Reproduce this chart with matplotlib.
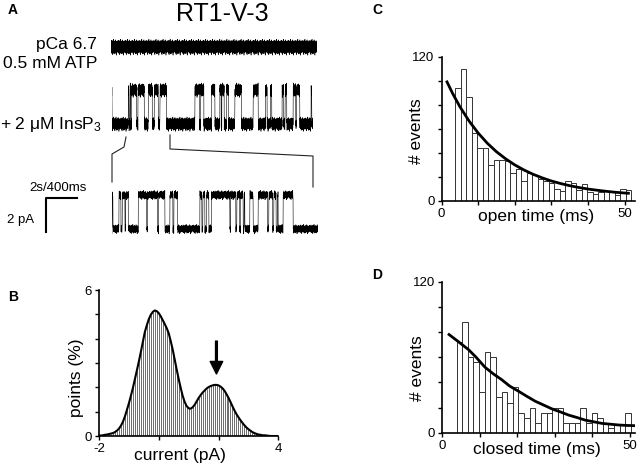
import numpy as np
import matplotlib.pyplot as plt

plt.rcParams['font.family'] = ['Liberation Sans', 'DejaVu Sans']
plt.rcParams['mathtext.fontset'] = 'custom'
plt.rcParams['mathtext.rm'] = 'Liberation Sans'
plt.rcParams['mathtext.default'] = 'regular'

# ---- data ----
# single channel records: (state, duration), 0 = closed, 1 = open
trace1_segs = [(0, 620)]
trace2_segs = [(1, 1), (0, 49), (1, 2), (0, 3), (1, 2), (0, 3), (1, 15), (0, 4), (1, 19), (0, 12),
               (1, 12), (0, 6), (1, 12), (0, 5), (1, 20), (0, 85), (1, 14), (0, 3), (1, 10), (0, 23),
               (1, 10), (0, 15), (1, 4), (0, 2), (1, 7), (0, 7), (1, 6), (0, 19), (1, 20), (0, 35),
               (1, 15), (0, 22), (1, 5), (0, 10), (1, 4), (0, 31), (1, 4), (0, 5), (1, 5), (0, 19),
               (1, 8), (0, 2), (1, 10), (0, 34), (1, 2), (0, 4)]
trace3_segs = [(0, 2), (1, 2), (0, 18), (1, 6), (0, 4), (1, 8), (0, 2), (1, 8), (0, 30), (1, 25),
               (0, 3), (1, 30), (0, 3), (1, 19), (0, 15), (1, 9), (0, 3), (1, 11), (0, 67), (1, 6),
               (0, 3), (1, 6), (0, 5), (1, 7), (0, 8), (1, 55), (0, 2), (1, 16), (0, 3), (1, 8),
               (0, 3), (1, 8), (0, 3), (1, 2), (0, 15), (1, 10), (0, 15), (1, 28), (0, 4), (1, 11),
               (0, 4), (1, 7), (0, 4), (1, 2), (0, 15), (1, 30), (0, 75)]
open_level = 2.0  # pA
noise = [0.12, -0.31, 0.25, -0.08, 0.40, -0.22, 0.05, -0.37, 0.18, 0.29, -0.14, 0.33, -0.45, 0.07,
         0.21, -0.26, 0.38, -0.05, -0.19, 0.27, -0.33, 0.14, 0.46, -0.12, -0.28, 0.09, 0.31, -0.41,
         0.16, -0.02, 0.24, -0.35, 0.11, 0.36, -0.17, -0.06, 0.28, -0.39, 0.20, 0.03, -0.24, 0.42,
         -0.10, 0.15, -0.30, 0.26, -0.15, 0.34, -0.48, 0.08, 0.19, -0.21, 0.30, -0.04, -0.34, 0.22,
         0.13, -0.27, 0.37, -0.09, 0.01, -0.20, 0.32, -0.13]

# B: all-points histogram, bins of 1/15 pA from -2 to 4
current = np.linspace(-2, 4, 91)
points_pct = [0.02, 0.02, 0.03, 0.05, 0.06, 0.08, 0.10, 0.12, 0.16, 0.22,
              0.30, 0.42, 0.58, 0.80, 1.07, 1.34, 1.65, 1.97, 2.33, 2.69,
              3.06, 3.45, 3.86, 4.27, 4.55, 4.80, 4.98, 5.10, 5.16, 5.13,
              5.05, 4.92, 4.76, 4.60, 4.43, 4.22, 3.90, 3.55, 3.14, 2.73,
              2.34, 1.98, 1.65, 1.40, 1.23, 1.14, 1.12, 1.18, 1.28, 1.42,
              1.56, 1.68, 1.78, 1.87, 1.95, 2.01, 2.05, 2.08, 2.10, 2.10,
              2.08, 2.03, 1.96, 1.86, 1.72, 1.57, 1.40, 1.22, 1.05, 0.90,
              0.77, 0.65, 0.54, 0.44, 0.35, 0.28, 0.22, 0.16, 0.12, 0.09,
              0.06, 0.05, 0.03, 0.03, 0.02, 0.01, 0, 0, 0, 0, 0]
arrow_x = 1.93

# C / D: dwell time histograms (1.5 ms bins)
bin_start = 3.8
bin_width = 1.5
open_counts = [94, 110, 86, 56, 44, 44, 30, 34, 34, 33, 23, 26, 16, 23, 21, 18,
               16, 15, 10, 8, 16, 15, 9, 14, 7, 6, 7, 8, 7, 5, 10, 9]
closed_counts = [72, 88, 60, 56, 32, 64, 60, 28, 32, 24, 36, 16, 12, 20, 8, 16,
                 16, 20, 20, 8, 8, 8, 20, 8, 16, 12, 8, 4, 6, 6, 16]
open_fit_t = [1.5, 3, 5, 7.5, 10, 12.5, 15, 17.5, 20, 22.5, 25, 27.5, 30, 32.5, 35, 37.5,
              40, 42.5, 45, 47.5, 50, 51]
open_fit_y = [99, 89.6, 78.4, 66.5, 56.4, 47.9, 40.8, 34.9, 29.8, 25.6, 22.0, 19.0, 16.4, 14.3,
              12.5, 11.0, 9.7, 8.7, 7.8, 7.0, 6.4, 6.2]
closed_fit_t = [1.8, 4, 7, 9, 11.4, 13.5, 15.9, 18, 20.3, 22.5, 24.8, 27, 29.2, 31.5, 33.7, 36,
                38.1, 40.5, 42.6, 45, 47.1, 49, 51.1]
closed_fit_y = [78, 73, 66, 60, 52, 47, 42, 37, 33, 29, 25, 22, 19, 16.5, 14, 12, 10, 8.6, 7.4,
                6.7, 6.1, 5.8, 5.6]

W, H = 640, 465


def px_rect(l, t, r, b):
    return [l / W, 1 - b / H, (r - l) / W, (b - t) / H]


def build_trace(segs, per_unit, shift, nscale):
    lev = np.concatenate([np.full(d * per_unit, s * open_level) for s, d in segs])
    nz = np.roll(np.resize(noise, len(lev)), shift) * nscale
    return lev + nz


fig = plt.figure(figsize=(6.4, 4.65), dpi=100)

# ---- A: traces ----
for segs, rect, per_unit, shift, nscale, ylim in [
        (trace1_segs, (111, 30, 317, 64), 3, 0, 1.0, (-1, 1)),
        (trace2_segs, (111.7, 73, 313, 141), 3, 17, 0.9, (-1, 3)),
        (trace3_segs, (111.7, 178, 318, 246), 2, 41, 0.6, (-1, 3))]:
    ax = fig.add_axes(px_rect(*rect))
    y = build_trace(segs, per_unit, shift, nscale)
    ax.plot(np.arange(len(y)), y, color='black', lw=0.4)
    ax.set_xlim(0, len(y) - 1)
    ax.set_ylim(*ylim)
    ax.axis('off')

# overlay for connector lines and scale bar (pixel coords)
ov = fig.add_axes([0, 0, 1, 1], zorder=-1)
ov.set_xlim(0, W)
ov.set_ylim(H, 0)
ov.axis('off')
ov.plot([126, 124, 112, 112], [137, 147, 154, 182], color='#222', lw=0.8)
ov.plot([170, 170, 313, 313], [135, 149, 156, 187], color='#222', lw=0.8)
ov.plot([77, 46, 46], [198, 198, 232], color='black', lw=1.5)

fig.text(8 / W, 1 - 10 / H, 'A', fontsize=10, fontweight='bold', va='center')
fig.text(222 / W, 1 - 14 / H, 'RT1-V-3', fontsize=18, ha='center', va='center')
fig.text(97 / W, 1 - 44 / H, 'pCa 6.7', fontsize=12.5, ha='right', va='center')
fig.text(97 / W, 1 - 63 / H, '0.5 mM ATP', fontsize=12.5, ha='right', va='center')
fig.text(102 / W, 1 - 125 / H, '+ 2 \u03bcM InsP$_3$', fontsize=12.5, ha='right', va='center')
fig.text(58 / W, 1 - 188 / H, '2s/400ms', fontsize=9.5, ha='center', va='center')
fig.text(21 / W, 1 - 220 / H, '2 pA', fontsize=9.5, ha='center', va='center')


def style_axes(ax):
    for s in ['top', 'right']:
        ax.spines[s].set_visible(False)
    for s in ['left', 'bottom']:
        ax.spines[s].set_linewidth(1.2)
    ax.tick_params(direction='out', length=3, width=1, labelsize=9.5, pad=2)


# ---- B ----
axb = fig.add_axes(px_rect(99, 290, 278.3, 436))
axb.vlines(current, 0, points_pct, color='#555', lw=0.6)
axb.plot(current, points_pct, color='black', lw=1.5)
axb.annotate('', xy=(arrow_x, 2.55), xytext=(arrow_x, 3.9),
             arrowprops=dict(facecolor='black', edgecolor='black', width=1.3, headwidth=9,
                             headlength=9, shrink=0))
axb.set_xlim(-2, 4)
axb.set_ylim(0, 6)
axb.set_xticks([-2, 0, 2, 4])
axb.set_xticklabels(['-2', '', '', '4'])
axb.set_yticks(range(7))
axb.set_yticklabels(['0', '', '', '', '', '', '6'])
style_axes(axb)
axb.set_xlabel('current (pA)', fontsize=12.5)
axb.xaxis.set_label_coords(0.45, -0.08)
axb.set_ylabel('points (%)', fontsize=12.5)
axb.yaxis.set_label_coords(-0.085, 0.40)
fig.text(8 / W, 1 - 297 / H, 'B', fontsize=10, fontweight='bold', va='center')

# ---- C / D ----
for counts, fit_t, fit_y, rect, xmax, xlab, label, ylab_y, lab_pos in [
        (open_counts, open_fit_t, open_fit_y, (441.5, 56.7, 635, 200.7), 52.8,
         'open time (ms)', 'C', 0.48, (372, 10)),
        (closed_counts, closed_fit_t, closed_fit_y, (442.3, 281.7, 635, 432.7), 51.4,
         'closed time (ms)', 'D', 0.43, (372, 275))]:
    ax = fig.add_axes(px_rect(*rect))
    left = bin_start + bin_width * np.arange(len(counts))
    ax.bar(left, counts, width=bin_width, align='edge', color='white', edgecolor='#333', lw=0.7)
    ax.plot(fit_t, fit_y, color='black', lw=2)
    ax.set_xlim(0, xmax)
    ax.set_ylim(0, 120)
    ax.set_xticks([0, 10, 20, 30, 40, 50])
    ax.set_xticklabels(['0', '', '', '', '', '50'])
    ax.set_yticks([0, 20, 40, 60, 80, 100, 120])
    ax.set_yticklabels(['0', '', '', '', '', '', '120'])
    style_axes(ax)
    ax.set_xlabel(xlab, fontsize=12.5)
    ax.xaxis.set_label_coords(0.49, -0.06)
    ax.set_ylabel('# events', fontsize=12.5)
    ax.yaxis.set_label_coords(-0.09, ylab_y)
    fig.text(lab_pos[0] / W, 1 - lab_pos[1] / H, label, fontsize=10, fontweight='bold', va='center')

fig.savefig('out.png', dpi=100)
